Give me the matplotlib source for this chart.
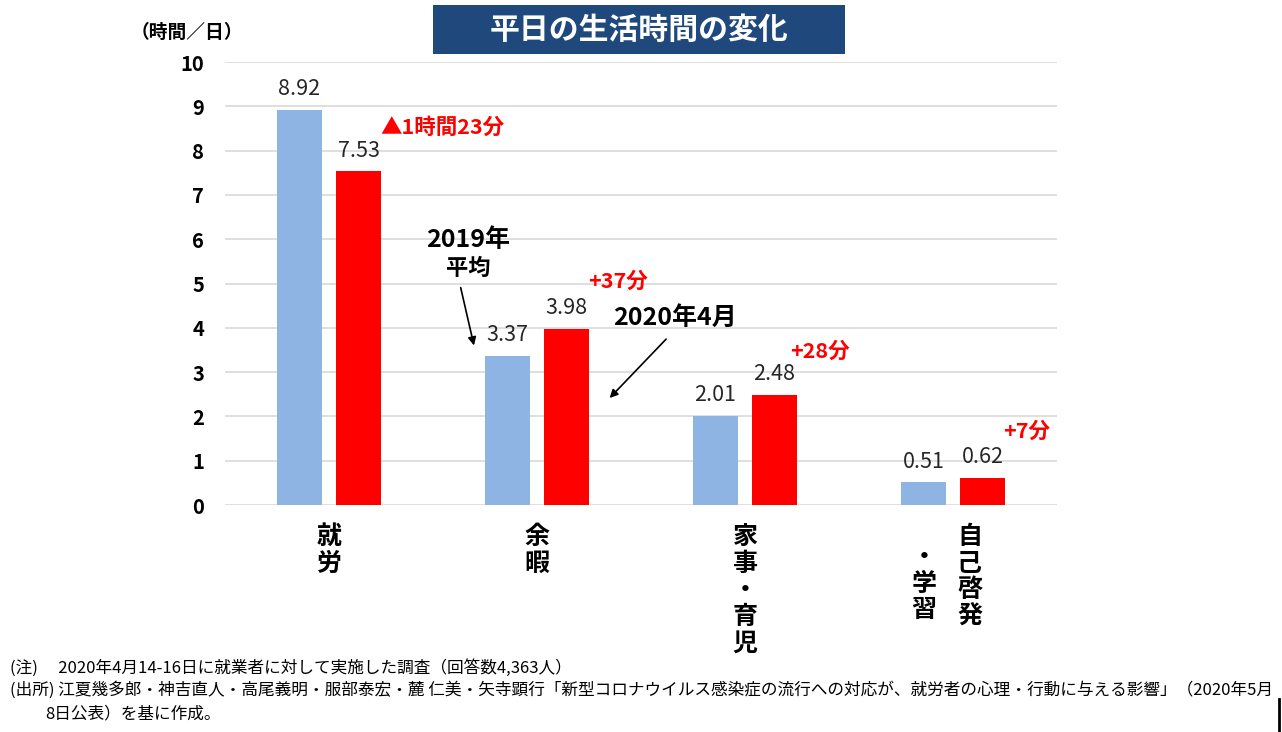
import matplotlib.pyplot as plt
from matplotlib.patches import Rectangle
import numpy as np

plt.rcParams['font.family'] = ['Noto Sans CJK JP', 'DejaVu Sans']

categories = ['就\n労', '余\n暇', '家\n事\n・\n育\n児', '自\n己\n啓\n発']
avg_2019 = [8.92, 3.37, 2.01, 0.51]
apr_2020 = [7.53, 3.98, 2.48, 0.62]
changes = ['▲1時間23分', '+37分', '+28分', '+7分']

BLUE = '#8DB4E2'
RED = '#FF0000'

fig = plt.figure(figsize=(12.82, 7.32), dpi=100)
ax = fig.add_axes([0.1755, 0.3101, 0.649, 0.6052])

x = np.arange(len(categories))
w = 0.22
off = 0.142
b1 = ax.bar(x - off, avg_2019, w, color=BLUE, zorder=3)
b2 = ax.bar(x + off, apr_2020, w, color=RED, zorder=3)

for bars, vals in ((b1, avg_2019), (b2, apr_2020)):
    for r, v in zip(bars, vals):
        ax.annotate(f'{v:.2f}', (r.get_x() + r.get_width() / 2, v),
                    xytext=(0, 7), textcoords='offset points',
                    ha='center', va='bottom', fontsize=15.5, color='#262626')

ax.set_xlim(-0.5, 3.5)
ax.set_ylim(0, 10)
ax.set_yticks(range(0, 11))
ax.set_yticklabels([str(i) for i in range(0, 11)], fontsize=14.5, fontweight='bold')
ax.tick_params(axis='y', length=0, pad=15)
ax.set_xticks([])
ax.grid(axis='y', color='#D9D9D9', linewidth=1.2, zorder=0)
for s in ax.spines.values():
    s.set_visible(False)

# category labels (vertical text)
for i, c in enumerate(categories[:3]):
    ax.text(i, -0.45, c, ha='center', va='top', fontsize=18, fontweight='bold',
            linespacing=1.14)
ax.text(3.08, -0.45, categories[3], ha='center', va='top', fontsize=18,
        fontweight='bold', linespacing=1.14)
ax.text(2.86, -0.9, '・\n学\n習', ha='center', va='top', fontsize=18,
        fontweight='bold', linespacing=1.14)

# change annotations
chg_pos = [(0.245, 8.53), (1.245, 5.06), (2.216, 3.48), (3.24, 1.67)]
for (px, py), t in zip(chg_pos, changes):
    ax.text(px, py, t, ha='left', va='center', fontsize=15.5, fontweight='bold',
            color=RED)

# legend-like callouts
ax.text(0.67, 5.98, '2019年', ha='center', va='center', fontsize=18, fontweight='bold')
ax.text(0.67, 5.35, '平均', ha='center', va='center', fontsize=16, fontweight='bold')
ax.annotate('', xy=(0.70, 3.54), xytext=(0.63, 4.97),
            arrowprops=dict(arrowstyle='-|>', color='black', lw=1.2, mutation_scale=12))
ax.text(1.365, 4.22, '2020年4月', ha='left', va='center', fontsize=18, fontweight='bold')
ax.annotate('', xy=(1.34, 2.37), xytext=(1.63, 3.79),
            arrowprops=dict(arrowstyle='-|>', color='black', lw=1.2, mutation_scale=12))

# title box
fig.add_artist(Rectangle((433 / 1282, 1 - 54 / 732), 412 / 1282, 49 / 732,
                         transform=fig.transFigure, fc='#1F497D', ec='none'))
fig.text(639 / 1282, 1 - 30 / 732, '平日の生活時間の変化', ha='center', va='center',
         fontsize=21.5, fontweight='bold', color='white')
fig.text(187 / 1282, 1 - 32 / 732, '（時間／日）', ha='center', va='center', fontsize=13.5,
         fontweight='bold')

# notes
fig.text(0.008, 0.088, '(注)　 2020年4月14-16日に就業者に対して実施した調査（回答数4,363人）',
         ha='left', va='center', fontsize=12)
fig.text(0.008, 0.057, '(出所) 江夏幾多郎・神吉直人・高尾義明・服部泰宏・麓 仁美・矢寺顕行「新型コロナウイルス感染症の流行への対応が、就労者の心理・行動に与える影響」（2020年5月',
         ha='left', va='center', fontsize=12)
fig.text(0.035, 0.025, '8日公表）を基に作成。', ha='left', va='center', fontsize=12)

fig.add_artist(plt.Line2D([0.9975, 0.9975], [0.0, 0.045], color='black', lw=2))

fig.savefig('out.png', dpi=100)
